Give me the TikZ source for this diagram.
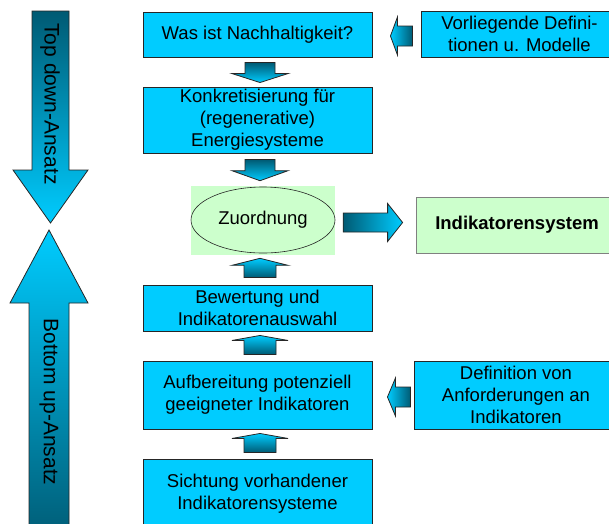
\documentclass[tikz,border=0pt]{standalone}
\usepackage{fontspec}
\setmainfont{Liberation Sans}
\usetikzlibrary{calc,shapes.geometric}
\definecolor{cy}{RGB}{0,204,255}
\definecolor{dk}{RGB}{0,90,115}
\definecolor{gr}{RGB}{204,255,204}
\newcommand{\blockarr}[6]{%
  \coordinate (ba-h) at ($(#2)!#5!(#1)$);
  \path[draw=black!85, line width=0.8pt, line join=miter, #6]
    ($(#1)!#3!90:(#2)$) -- ($(ba-h)!#3!90:(#2)$) -- ($(ba-h)!#4!90:(#2)$) -- (#2)
    -- ($(ba-h)!#4!-90:(#2)$) -- ($(ba-h)!#3!-90:(#2)$) -- ($(#1)!#3!-90:(#2)$) -- cycle;
}
\tikzset{
  mb/.style={draw=black!85, line width=0.9pt, fill=cy, minimum width=229pt, align=center,
    inner sep=0pt, font=\fontsize{18.5}{21.8}\selectfont},
  gb/.style={draw=black!50, line width=0.8pt, fill=gr, align=center, inner sep=0pt,
    font=\fontsize{18.5}{21.8}\selectfont\bfseries},
  bigtext/.style={rotate=-90, font=\fontsize{21}{25}\selectfont},
  down/.style={top color=dk, bottom color=cy},
  up/.style={top color=cy, bottom color=dk},
  left/.style={left color=cy, right color=dk},
  right/.style={left color=dk, right color=cy},
}
\begin{document}
\begin{tikzpicture}[x=1pt,y=-1pt]
\path[use as bounding box] (0,0) rectangle (609,523);
\clip (0,0) rectangle (609,523);

% green area and ellipse
\node[fill=gr, minimum width=144pt, minimum height=69pt, inner sep=0pt] (grn) at (263,220.5) {};
\node[ellipse, draw=black!85, line width=0.6pt, fill=gr, minimum width=144pt, minimum height=66pt,
  inner sep=0pt, font=\fontsize{18.5}{21.8}\selectfont] (zuo) at (263,220) {Zuordnung};

% main boxes
\node[mb, minimum height=45pt] (was) at (257.5,34.5) {Was ist Nachhaltigkeit?};
\node[mb, minimum height=66pt] (konk) at (257.5,120) {Konkretisierung für\\(regenerative)\\Energiesysteme};
\node[mb, minimum height=46pt] (bew) at (257.5,308) {Bewertung und\\Indikatorenauswahl};
\node[mb, minimum height=68pt] (aufb) at (257.5,395) {Aufbereitung potenziell\\geeigneter Indikatoren};
\node[mb, minimum height=69pt] (sicht) at (257.5,493.5) {Sichtung vorhandener\\Indikatorensysteme};
\node[mb, minimum width=197pt, minimum height=46pt] (vorl) at (519.5,34) {Vorliegende Defini-\\tionen u. Modelle};
\node[mb, minimum width=204pt, minimum height=68pt] (defi) at (516,395) {Definition von\\Anforderungen an\\Indikatoren};
\node[gb, minimum width=202pt, minimum height=56pt] (indi) at (517,225) {Indikatorensystem};

% small block arrows
\coordinate (a1t) at ($(was.south)+(2.5,5)$);
\coordinate (a1e) at ($(konk.north)+(2.5,-4)$);
\blockarr{a1t}{a1e}{15pt}{28pt}{9pt}{down}

\coordinate (a2t) at ($(konk.south)+(2.5,6)$);
\coordinate (a2e) at ($(zuo.north)+(-3,-6)$);
\blockarr{a2t}{a2e}{15pt}{28pt}{10pt}{down}

\coordinate (a3t) at ($(bew.north)+(2.5,-7)$);
\coordinate (a3e) at ($(zuo.south)+(-3,5)$);
\blockarr{a3t}{a3e}{16pt}{28pt}{7pt}{up}

\coordinate (a4t) at ($(aufb.north)+(2.5,-6)$);
\coordinate (a4e) at ($(bew.south)+(2.5,4)$);
\blockarr{a4t}{a4e}{16pt}{28pt}{5pt}{up}

\coordinate (a5t) at ($(sicht.north)+(2.5,-6)$);
\coordinate (a5e) at ($(aufb.south)+(2.5,4)$);
\blockarr{a5t}{a5e}{16pt}{28pt}{5pt}{up}

\coordinate (a6t) at ($(vorl.west)+(-8,2)$);
\coordinate (a6e) at ($(was.east)+(18,1.5)$);
\blockarr{a6t}{a6e}{10pt}{19pt}{7pt}{left}

\coordinate (a7t) at ($(defi.west)+(-3,2)$);
\coordinate (a7e) at ($(aufb.east)+(15,2)$);
\blockarr{a7t}{a7e}{10pt}{19pt}{8pt}{left}

\coordinate (a8t) at ($(grn.east)+(8,2)$);
\coordinate (a8e) at ($(indi.west)+(-13,-2.5)$);
\blockarr{a8t}{a8e}{9.5pt}{19pt}{15pt}{right}

% big arrows
\coordinate (tdt) at (50.5,11);
\coordinate (tde) at (50.5,223);
\blockarr{tdt}{tde}{18.5pt}{37.5pt}{53pt}{down}
\coordinate (but) at (49,545);
\coordinate (bue) at (49,230);
\blockarr{but}{bue}{20pt}{39pt}{73pt}{up}
\node[bigtext] (td) at (50,104) {Top down-Ansatz};
\node[bigtext] (bu) at (49,402) {Bottom up-Ansatz};
\end{tikzpicture}
\end{document}
